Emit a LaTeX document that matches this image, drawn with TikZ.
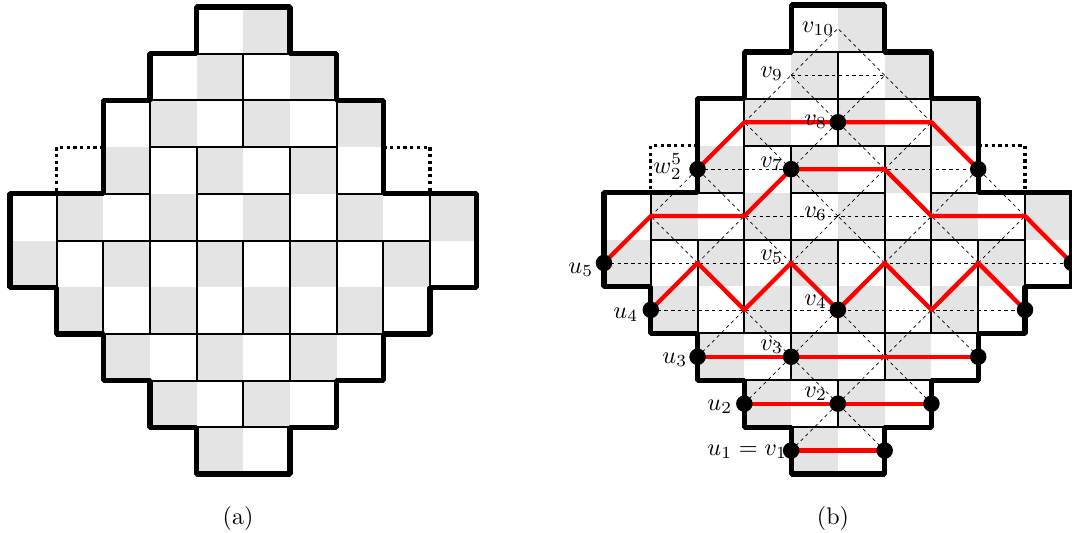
\documentclass[tikz,border=0pt]{standalone}
\definecolor{cellgray}{HTML}{E4E4E4}
\tikzset{
  thinline/.style={black,line width=2pt},
  outline/.style={black,line width=5.2pt,line join=bevel},
  dotline/.style={black,line width=3.2pt,dash pattern=on 3.3pt off 3.4pt},
  latticeline/.style={black,line width=0.7pt,dash pattern=on 3.4pt off 3.4pt},
  redline/.style={red,line width=4.3pt,line join=round},
  blackdot/.style={circle,fill=black,inner sep=0pt,minimum size=16.5pt},
  lab/.style={anchor=base west,inner sep=0pt,scale=2.42,black},
  captext/.style={anchor=base,inner sep=0pt,scale=2.4,black}
}
\newcommand{\tilingbase}{%
  \foreach \r/\a/\b in {0/4/5,1/3/6,2/2/7,3/2/7,4/0/9,5/0/9,6/1/8,7/2/7,8/3/6,9/4/5}{
    \foreach \c in {\a,...,\b}{
      \pgfmathtruncatemacro{\odd}{mod(\r+\c,2)}
      \ifnum\odd=1 \fill[cellgray] (\c,\r) rectangle +(1,1); \fi
    }
  }
  \foreach \y/\a/\b in {1/4/6,2/3/7,3/3/7,4/2/3,4/4/6,4/7/8,5/1/9,7/2/8,8/3/7,9/4/6}{
    \draw[thinline] (\a,\y) -- (\b,\y);
  }
  \foreach \x/\a/\b in {1/4/6,9/4/6,2/5/7,8/5/7,3/2/7,7/2/7,4/3/8,6/3/8,5/1/3,5/5/7,5/8/9}{
    \draw[thinline] (\x,\a) -- (\x,\b);
  }
  \draw[dotline] (2,3) -- (1,3) -- (1,4);
  \draw[dotline] (8,3) -- (9,3) -- (9,4);
  \draw[outline] (4,0) -- (6,0) -- (6,1) -- (7,1) -- (7,2) -- (8,2) -- (8,4) -- (10,4)
    -- (10,6) -- (9,6) -- (9,7) -- (8,7) -- (8,8) -- (7,8) -- (7,9) -- (6,9) -- (6,10)
    -- (4,10) -- (4,9) -- (3,9) -- (3,8) -- (2,8) -- (2,7) -- (1,7) -- (1,6) -- (0,6)
    -- (0,4) -- (2,4) -- (2,2) -- (3,2) -- (3,1) -- (4,1) -- cycle;
}
\begin{document}
\begin{tikzpicture}[x=1pt,y=-1pt]
\useasboundingbox (0,0) rectangle (1072,533);
\begin{scope}[shift={(10,7)},x=46.67pt,y=-46.7pt]
  \tilingbase
\end{scope}
\begin{scope}[shift={(604,5)},x=46.78pt,y=-46.9pt]
  \tilingbase
  \foreach \i in {0,...,10}{
    \foreach \k in {1,...,10}{
      \coordinate (L-\i-\k) at (\i,10.5-\k);
    }
  }
  % horizontal dashed rows
  \foreach \k/\a/\b in {4/1/9,5/0/10,6/1/9,7/2/8,9/4/6}{
    \draw[latticeline] (L-\a-\k) -- (L-\b-\k);
  }
  % diagonals inside the region, rising to the right
  \foreach \i/\k in {4/1,3/2,5/2,2/3,4/3,6/3,3/4,5/4,7/4,2/5,4/5,6/5,8/5,1/6,3/6,5/6,7/6,2/7,4/7,6/7,3/8,5/8,4/9}{
    \pgfmathtruncatemacro{\ir}{\i+1}
    \pgfmathtruncatemacro{\up}{\k+1}
    \draw[latticeline] (L-\i-\k) -- (L-\ir-\up);
  }
  % diagonals inside the region, falling to the right
  \foreach \i/\k in {6/1,7/2,5/2,8/3,6/3,4/3,7/4,5/4,3/4,8/5,6/5,4/5,2/5,9/6,7/6,5/6,3/6,8/7,6/7,4/7,7/8,5/8,6/9}{
    \pgfmathtruncatemacro{\il}{\i-1}
    \pgfmathtruncatemacro{\up}{\k+1}
    \draw[latticeline] (L-\i-\k) -- (L-\il-\up);
  }
  % red paths
  \draw[redline] (L-4-1) -- (L-6-1);
  \draw[redline] (L-3-2) -- (L-7-2);
  \draw[redline] (L-2-3) -- (L-8-3);
  \draw[redline] (L-1-4) -- (L-2-5) -- (L-3-4) -- (L-4-5) -- (L-5-4) -- (L-6-5) -- (L-7-4) -- (L-8-5) -- (L-9-4);
  \draw[redline] (L-0-5) -- (L-1-6) -- (L-3-6) -- (L-4-7) -- (L-6-7) -- (L-7-6) -- (L-9-6) -- (L-10-5);
  \draw[redline] (L-2-7) -- (L-3-8) -- (L-7-8) -- (L-8-7);
  % black vertices
  \foreach \i/\k in {4/1,6/1,3/2,5/2,7/2,2/3,4/3,8/3,1/4,5/4,9/4,0/5,10/5,2/7,4/7,8/7,5/8}{
    \node[blackdot] (d-\i-\k) at (L-\i-\k) {};
  }
\end{scope}
\node[lab] (v10) at (801.5,32) {$v_{10}$};
\node[lab] (v9) at (760,77) {$v_9$};
\node[lab] (v8) at (804,125) {$v_8$};
\node[lab] (v7) at (760,167) {$v_7$};
\node[lab] (w) at (653,173) {$w_2^5$};
\node[lab] (v6) at (804,217) {$v_6$};
\node[lab] (v5) at (760,260) {$v_5$};
\node[lab] (v4) at (804,305) {$v_4$};
\node[lab] (v3) at (760,350) {$v_3$};
\node[lab] (v2) at (804,397) {$v_2$};
\node[lab] (u1) at (707,455) {$u_1=v_1$};
\node[lab] (u2) at (707,410) {$u_2$};
\node[lab] (u3) at (662,363) {$u_3$};
\node[lab] (u4) at (613,318) {$u_4$};
\node[lab] (u5) at (568,273) {$u_5$};
\node[captext] (capa) at (238,524) {(a)};
\node[captext] (capb) at (833,524) {(b)};
\end{tikzpicture}
\end{document}
